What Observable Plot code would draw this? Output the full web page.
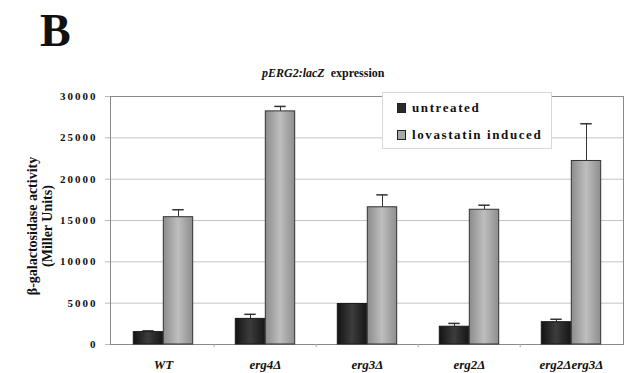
<!DOCTYPE html>
<html>
<head>
<meta charset="utf-8">
<script src="https://cdn.jsdelivr.net/npm/d3@7"></script>
<script src="https://cdn.jsdelivr.net/npm/@observablehq/plot@0.6"></script>
<style>
  html, body { margin: 0; padding: 0; background: #fff; }
  #wrap { position: relative; width: 625px; height: 373px; overflow: hidden; font-family: "Liberation Serif", "Times New Roman", serif; }
  #wrap svg { position: absolute; left: 0; top: 0; }
  .abs { position: absolute; white-space: nowrap; color: #111; }
  #panel { left: 40px; top: 8px; font-size: 46px; font-weight: bold; line-height: 1; }
  #title { left: 262px; top: 66px; font-size: 12px; font-weight: bold; }
  #ylab { left: 40px; top: 226px; transform: translate(-50%, -50%) rotate(-90deg); font-size: 14px; font-weight: bold; text-align: center; line-height: 15px; }
  #legend { left: 382px; top: 92px; width: 170px; height: 57px; background: #fff; border: 1px solid #d8d8d8; box-sizing: border-box; }
  .li { position: absolute; left: 14px; font-size: 13px; font-weight: bold; letter-spacing: 1.6px; line-height: 14px; }
  .sw { display: inline-block; width: 7px; height: 8px; border: 1px solid #222; margin-right: 6px; vertical-align: -1px; }
</style>
</head>
<body>
<div id="wrap">
  <div id="chart"></div>
  <div class="abs" id="panel">B</div>
  <div class="abs" id="title"><i>pERG2:lacZ</i>&nbsp; expression</div>
  <div class="abs" id="ylab">β-galactosidase activity<br>(Miller Units)</div>
  <div class="abs" id="legend">
    <div class="li" style="top:8px"><span class="sw" style="background:#2a2a2a"></span>untreated</div>
    <div class="li" style="top:35px"><span class="sw" style="background:#a8a8a8"></span>lovastatin induced</div>
  </div>
</div>
<script>
const categories = ["WT", "erg4Δ", "erg3Δ", "erg2Δ", "erg2Δerg3Δ"];
const untreated = [1500, 3100, 4900, 2150, 2700];
const untreatedErr = [150, 550, 0, 400, 350];
const lovastatin = [15400, 28200, 16600, 16300, 22200];
const lovastatinErr = [900, 600, 1500, 550, 4500];
const yTicks = [0, 5000, 10000, 15000, 20000, 25000, 30000];

const dataU = categories.map((c, i) => ({cat: c, v: untreated[i], e: untreatedErr[i]}));
const dataL = categories.map((c, i) => ({cat: c, v: lovastatin[i], e: lovastatinErr[i]}));

const W = 625, H = 373, ML = 110, MR = 2, MT = 96, MB = 29;
const band = (W - ML - MR) / categories.length;
const barW = 30;
const inset = (band - barW) / 2;
const capInset = (band - 12) / 2;

const chart = Plot.plot({
  width: W, height: H,
  marginLeft: ML, marginRight: MR, marginTop: MT, marginBottom: MB,
  style: {fontFamily: "'Liberation Serif', serif", background: "#fff", color: "#111"},
  x: {domain: categories, padding: 0, axis: null},
  y: {domain: [0, 30000], axis: null},
  marks: [
    Plot.gridY(yTicks.slice(1), {stroke: "#c4c4c4", strokeOpacity: 1}),
    Plot.frame({stroke: "#8a8a8a"}),
    Plot.ruleX(categories.slice(1), {x: d => d, dx: -band / 2, y1: 0, y2: -400, stroke: "#aaa"}),
    Plot.axisY(yTicks, {tickSize: 5, tickPadding: 8, fontSize: 11, fontWeight: "bold", stroke: "#bbb", label: null, tickFormat: d => String(d)}),
    Plot.axisX({tickSize: 0, tickPadding: 15, fontSize: 13, fontWeight: "bold", fontStyle: "italic", label: null}),
    Plot.ruleX(dataU.filter(d => d.e > 0), {x: "cat", y1: "v", y2: d => d.v + d.e, dx: -barW / 2, stroke: "#333"}),
    Plot.tickY(dataU.filter(d => d.e > 0), {x: "cat", y: d => d.v + d.e, dx: -barW / 2, insetLeft: capInset, insetRight: capInset, stroke: "#333", strokeWidth: 1.5}),
    Plot.ruleX(dataL.filter(d => d.e > 0), {x: "cat", y1: "v", y2: d => d.v + d.e, dx: barW / 2, stroke: "#333"}),
    Plot.tickY(dataL.filter(d => d.e > 0), {x: "cat", y: d => d.v + d.e, dx: barW / 2, insetLeft: capInset, insetRight: capInset, stroke: "#333", strokeWidth: 1.5}),
    Plot.barY(dataU, {x: "cat", y: "v", dx: -barW / 2, insetLeft: inset, insetRight: inset, fill: "url(#gDark)", stroke: "#1a1a1a", strokeWidth: 1}),
    Plot.barY(dataL, {x: "cat", y: "v", dx: barW / 2, insetLeft: inset, insetRight: inset, fill: "url(#gLight)", stroke: "#333", strokeWidth: 1})
  ]
});

chart.insertAdjacentHTML("afterbegin", `
<defs>
  <linearGradient id="gDark" x1="0" x2="1" y1="0" y2="0">
    <stop offset="0" stop-color="#141414"/>
    <stop offset="0.5" stop-color="#3c3c3c"/>
    <stop offset="1" stop-color="#161616"/>
  </linearGradient>
  <linearGradient id="gLight" x1="0" x2="1" y1="0" y2="0">
    <stop offset="0" stop-color="#8c8c8c"/>
    <stop offset="0.5" stop-color="#bebebe"/>
    <stop offset="1" stop-color="#8e8e8e"/>
  </linearGradient>
</defs>`);

chart.querySelectorAll("text").forEach(t => {
  if (/^\d+$/.test(t.textContent.trim())) t.style.letterSpacing = "2px";
});

document.getElementById("chart").appendChild(chart);
</script>
</body>
</html>
